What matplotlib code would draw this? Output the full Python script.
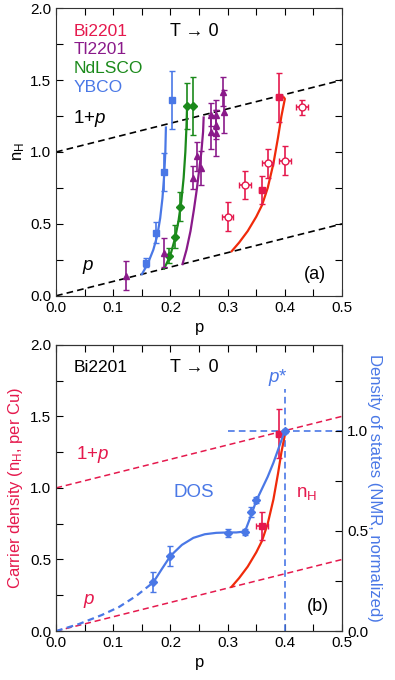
import numpy as np
import matplotlib
matplotlib.use("Agg")
from matplotlib import pyplot as plt

plt.rcParams['font.family'] = ['Liberation Sans', 'DejaVu Sans']
plt.rcParams['mathtext.fontset'] = 'custom'
plt.rcParams['mathtext.rm'] = 'Liberation Sans'
plt.rcParams['mathtext.it'] = 'Liberation Sans:italic'

RED = '#e5194d'
FIT = '#f02a0a'
PURPLE = '#8a1a8a'
GREEN = '#1b8a1b'
BLUE = '#4a78e6'

# ---- panel (a) data ----
bi_p_filled = [0.36, 0.39]
bi_n_filled = [0.735, 1.38]
bi_err_filled = [0.1, 0.17]
bi_p_open = [0.30, 0.33, 0.37, 0.40, 0.43]
bi_n_open = [0.55, 0.77, 0.92, 0.94, 1.31]
bi_err_open = [0.1, 0.1, 0.1, 0.1, 0.05]

tl_p = [0.123, 0.188, 0.240, 0.246, 0.253, 0.270, 0.270, 0.279, 0.279, 0.279, 0.292, 0.293]
tl_n = [0.14, 0.30, 0.82, 0.97, 0.89, 1.26, 1.14, 1.26, 1.19, 1.13, 1.42, 1.28]
tl_err = [0.1, 0.1, 0.08, 0.1, 0.12, 0.08, 0.12, 0.1, 0.1, 0.16, 0.1, 0.15]

nd_p = [0.197, 0.2075, 0.2175, 0.229, 0.24]
nd_n = [0.28, 0.41, 0.62, 1.32, 1.32]
nd_err = [0.05, 0.08, 0.1, 0.16, 0.2]

yb_p = [0.158, 0.175, 0.188, 0.203]
yb_n = [0.23, 0.44, 0.86, 1.36]
yb_err = [0.03, 0.07, 0.13, 0.2]

# fitted curves
fit_bi_p = [0.307, 0.32, 0.335, 0.35, 0.36, 0.37, 0.38, 0.388, 0.394, 0.398, 0.40, 0.398]
fit_bi_n = [0.31, 0.37, 0.45, 0.55, 0.63, 0.75, 0.92, 1.10, 1.25, 1.33, 1.37, 1.38]
fit_tl_p = [0.221, 0.228, 0.235, 0.241, 0.246, 0.250, 0.254, 0.257, 0.258]
fit_tl_n = [0.22, 0.32, 0.45, 0.60, 0.74, 0.87, 1.00, 1.14, 1.24]
fit_nd_p = [0.189, 0.195, 0.201, 0.208, 0.214, 0.219, 0.223, 0.226, 0.228, 0.229]
fit_nd_n = [0.19, 0.24, 0.30, 0.40, 0.52, 0.66, 0.82, 1.00, 1.18, 1.32]
fit_yb_p = [0.150, 0.160, 0.170, 0.177, 0.182, 0.186, 0.189, 0.191, 0.192]
fit_yb_n = [0.15, 0.22, 0.32, 0.42, 0.54, 0.68, 0.84, 1.00, 1.17]

# ---- panel (b) data ----
b_nh_p = [0.36, 0.39]
b_nh_n = [0.735, 1.38]
b_nh_err = [0.1, 0.17]
dos_p = [0.17, 0.20, 0.30, 0.33, 0.34, 0.35, 0.40]
dos_val = [0.243, 0.375, 0.49, 0.496, 0.596, 0.654, 1.0]
dos_err = [0.05, 0.05, 0.02, 0.015, 0.025, 0.015, 0.01]
dos_fit_p = [0.17, 0.185, 0.20, 0.22, 0.24, 0.26, 0.28, 0.30, 0.315, 0.325, 0.332, 0.34, 0.35, 0.36, 0.37, 0.38, 0.39, 0.40]
dos_fit_v = [0.243, 0.31, 0.375, 0.43, 0.465, 0.483, 0.49, 0.492, 0.492, 0.495, 0.51, 0.57, 0.65, 0.71, 0.77, 0.84, 0.92, 1.0]
dos_dash_p = [0.0, 0.04, 0.08, 0.11, 0.14, 0.17]
dos_dash_v = [0.0, 0.035, 0.08, 0.12, 0.175, 0.243]
DOS_SCALE = 1.4  # DOS = 1 sits at n = 1.4 on left axis

fig = plt.figure(figsize=(3.95, 6.8), dpi=100)
ax1 = fig.add_axes([0.142, 0.565, 0.724, 0.423])
ax2 = fig.add_axes([0.142, 0.072, 0.724, 0.421])

pline = np.array([0.0, 0.5])


def style_axis(ax):
    ax.set_xlim(0, 0.5)
    ax.set_ylim(0, 2.0)
    ax.set_xticks(np.arange(0, 0.51, 0.1))
    ax.set_xticks(np.arange(0, 0.51, 0.05), minor=True)
    ax.set_yticks(np.arange(0, 2.01, 0.5))
    ax.set_yticks(np.arange(0, 2.01, 0.25), minor=True)
    ax.tick_params(which='both', direction='in', labelsize=11, width=0.8)
    ax.tick_params(which='major', length=5)
    ax.tick_params(which='minor', length=5)
    for s in ax.spines.values():
        s.set_linewidth(0.8)
        s.set_color('#333333')


# ---- panel (a) ----
style_axis(ax1)
ax1.tick_params(which='both', top=True, right=True)
ax1.plot(pline, 1 + pline, '--', color='black', lw=1.2, dashes=(4, 2.5))
ax1.plot(pline, pline, '--', color='black', lw=1.2, dashes=(4, 2.5))

ax1.plot(fit_bi_p, fit_bi_n, color=FIT, lw=1.6)
ax1.plot(fit_tl_p, fit_tl_n, color=PURPLE, lw=1.6)
ax1.plot(fit_nd_p, fit_nd_n, color=GREEN, lw=1.6)
ax1.plot(fit_yb_p, fit_yb_n, color=BLUE, lw=1.6)

ax1.errorbar(yb_p, yb_n, yerr=yb_err, fmt='s', color=BLUE, ms=4.5, capsize=2.5, elinewidth=1.2)
ax1.errorbar(nd_p, nd_n, yerr=nd_err, fmt='D', color=GREEN, ms=4.5, capsize=2.5, elinewidth=1.2)
ax1.errorbar(tl_p, tl_n, yerr=tl_err, fmt='^', color=PURPLE, ms=4.5, capsize=2.5, elinewidth=1.2)
ax1.errorbar(bi_p_filled, bi_n_filled, yerr=bi_err_filled, xerr=0.005, fmt='s', color=RED,
             ms=4.5, capsize=2.5, elinewidth=1.2)
ax1.errorbar(bi_p_open, bi_n_open, yerr=bi_err_open, xerr=0.01, fmt='o', color=RED,
             mfc='white', ms=5, capsize=2.5, elinewidth=1.2)

ax1.text(0.03, 1.84, 'Bi2201', color=RED, fontsize=12.5, va='center')
ax1.text(0.03, 1.71, 'Tl2201', color=PURPLE, fontsize=12.5, va='center')
ax1.text(0.03, 1.58, 'NdLSCO', color=GREEN, fontsize=12.5, va='center')
ax1.text(0.03, 1.45, 'YBCO', color=BLUE, fontsize=12.5, va='center')
ax1.text(0.20, 1.84, 'T \u2192 0', color='black', fontsize=13, va='center')
ax1.text(0.03, 1.23, '1+$\\mathit{p}$', color='black', fontsize=13.5, va='center')
ax1.text(0.045, 0.2, '$\\mathit{p}$', color='black', fontsize=13.5, va='center')
ax1.text(0.433, 0.15, '(a)', color='black', fontsize=13, va='center')
ax1.set_xlabel('p', fontsize=12, labelpad=4)
ax1.set_ylabel('n$_\\mathrm{H}$', fontsize=12, labelpad=2)

# ---- panel (b) ----
style_axis(ax2)
ax2.tick_params(which='both', top=True)
ax2.plot(pline, 1 + pline, '--', color=RED, lw=1.1, dashes=(4, 2.5))
ax2.plot(pline, pline, '--', color=RED, lw=1.1, dashes=(4, 2.5))
ax2.plot([0.4, 0.4], [0, 1.69], '--', color=BLUE, lw=1.2, dashes=(4, 2.5))
ax2.plot([0.3, 0.5], [DOS_SCALE, DOS_SCALE], '--', color=BLUE, lw=1.2, dashes=(4, 2.5))

ax2.plot(fit_bi_p, fit_bi_n, color=FIT, lw=1.6)
ax2.errorbar(b_nh_p, b_nh_n, yerr=b_nh_err, xerr=[0.01, 0.005], fmt='s', color=RED,
             ms=4.5, capsize=2.5, elinewidth=1.2)

ax3 = ax2.twinx()
ax3.set_ylim(0, 2.0 / DOS_SCALE)
ax3.set_yticks([0, 0.5, 1.0])
ax3.set_yticks(np.arange(0, 1.43, 0.25), minor=True)
ax3.tick_params(which='both', direction='in', labelsize=11, length=5, width=0.8)
ax3.plot(dos_fit_p, dos_fit_v, color=BLUE, lw=1.6)
ax3.plot(dos_dash_p, dos_dash_v, '--', color=BLUE, lw=1.6, dashes=(3, 2))
ax3.errorbar(dos_p, dos_val, yerr=dos_err, fmt='D', color=BLUE, ms=4.5, capsize=2.5, elinewidth=1.2)
ax3.set_ylabel('Density of states (NMR, normalized)', color=BLUE, fontsize=12,
               rotation=-90, labelpad=10)
for s in ax3.spines.values():
    s.set_linewidth(0.8)
    s.set_color('#333333')

ax2.text(0.03, 1.84, 'Bi2201', color='black', fontsize=12.5, va='center')
ax2.text(0.20, 1.84, 'T \u2192 0', color='black', fontsize=13, va='center')
ax2.text(0.37, 1.77, '$\\mathit{p}$*', color=BLUE, fontsize=13.5, va='center')
ax2.text(0.035, 1.23, '1+$\\mathit{p}$', color=RED, fontsize=13.5, va='center')
ax2.text(0.205, 0.97, 'DOS', color=BLUE, fontsize=13.5, va='center')
ax2.text(0.42, 0.96, 'n$_\\mathrm{H}$', color=RED, fontsize=13.5, va='center')
ax2.text(0.047, 0.21, '$\\mathit{p}$', color=RED, fontsize=13.5, va='center')
ax2.text(0.438, 0.17, '(b)', color='black', fontsize=13, va='center')
ax2.set_xlabel('p', fontsize=12, labelpad=4)
ax2.set_ylabel('Carrier density (n$_\\mathrm{H}$, per Cu)', color=RED, fontsize=12, labelpad=4)

fig.savefig('out.png', dpi=100)
